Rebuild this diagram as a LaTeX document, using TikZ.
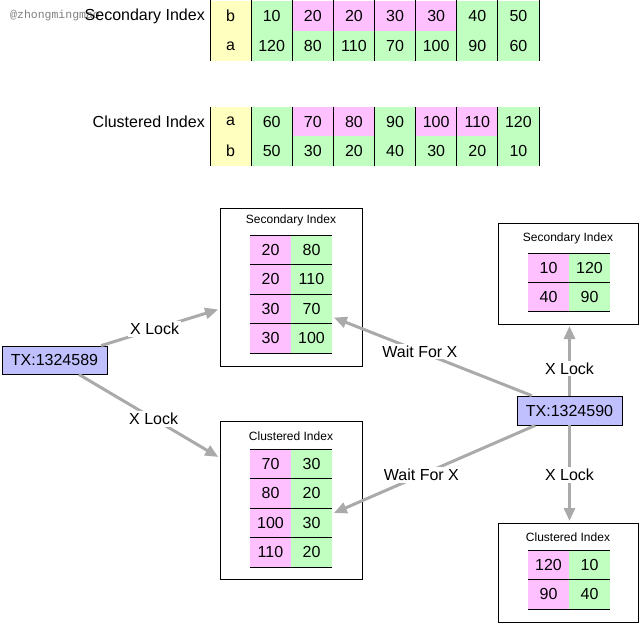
\documentclass[tikz,border=0pt]{standalone}
\usepackage{fontspec}
\setmainfont{Liberation Sans}
\newfontfamily\wmfont{Liberation Mono}
\usetikzlibrary{arrows.meta}
\definecolor{pnk}{HTML}{FFC0FF}
\definecolor{grn}{HTML}{C0FFC0}
\definecolor{ylw}{HTML}{FFFFC0}
\definecolor{txb}{HTML}{C0C0FF}
\definecolor{arr}{HTML}{AAAAAA}
\definecolor{wmgray}{HTML}{808080}
\begin{document}
\begin{tikzpicture}[x=1pt,y=-1pt,
  big/.style={font=\fontsize{16}{19}\selectfont},
  cellT/.style={big, minimum width=41.125pt, minimum height=30pt, inner sep=0pt, outer sep=0pt},
  cellB/.style={big, minimum width=41pt, minimum height=29.5pt, inner sep=0pt, outer sep=0pt},
  boxframe/.style={draw=black, line width=0.8pt, inner sep=0pt, outer sep=0pt},
  boxtitle/.style={font=\fontsize{12}{14}\selectfont, inner sep=0pt},
  txnode/.style={big, draw=black, line width=0.8pt, fill=txb, minimum width=105pt, minimum height=28pt, inner sep=0pt},
  conn/.style={draw=arr, line width=3pt, -{Triangle[length=13pt,width=11pt]}, shorten >=2pt},
  lbl/.style={big, fill=white, inner sep=2pt},
  rowlabel/.style={big, anchor=east, inner sep=0pt},
  rule/.style={draw=black, line width=0.8pt}
]
\path[use as bounding box] (0,0) rectangle (640,623);

% watermark
\node[anchor=west, text=wmgray, font=\wmfont\fontsize{11.5}{13}\selectfont, inner sep=0pt] (wm) at (10,16) {@zhongmingmao};

% ---------- top table: secondary index ----------
\node[rowlabel] (l1) at (205,16) {Secondary Index};
\foreach \v/\c [count=\i from 0] in {b/ylw,10/grn,20/pnk,20/pnk,30/pnk,30/pnk,40/grn,50/grn}
  \node[cellT, fill=\c] (sa\i) at (230.56+41.125*\i,16) {\v};
\foreach \v/\c [count=\i from 0] in {a/ylw,120/grn,80/grn,110/grn,70/grn,100/grn,90/grn,60/grn}
  \node[cellT, fill=\c] (sb\i) at (230.56+41.125*\i,46) {\v};
\foreach \i in {0,...,8}
  \draw[rule] (210+41.125*\i,0) -- (210+41.125*\i,61);

% ---------- clustered index table ----------
\node[rowlabel] (l2) at (205,122) {Clustered Index};
\foreach \v/\c [count=\i from 0] in {a/ylw,60/grn,70/pnk,80/pnk,90/grn,100/pnk,110/pnk,120/grn}
  \node[cellT, fill=\c, minimum height=29.5pt] (ca\i) at (230.56+41.125*\i,121.75) {\v};
\foreach \v/\c [count=\i from 0] in {b/ylw,50/grn,30/grn,20/grn,40/grn,30/grn,20/grn,10/grn}
  \node[cellT, fill=\c, minimum height=29.5pt] (cb\i) at (230.56+41.125*\i,151.25) {\v};
\foreach \i in {0,...,8}
  \draw[rule] (210+41.125*\i,107) -- (210+41.125*\i,166);

% ---------- box 1: secondary index (TX1) ----------
\node[boxframe, minimum width=142pt, minimum height=158pt] (b1) at (291,287) {};
\node[boxtitle] (b1t) at (291,220) {Secondary Index};
\foreach \l/\r [count=\k from 0] in {20/80,20/110,30/70,30/100} {
  \node[cellB, fill=pnk] (b1l\k) at (270.5,249.75+29.5*\k) {\l};
  \node[cellB, fill=grn] (b1r\k) at (311.5,249.75+29.5*\k) {\r};
}
\foreach \k in {0,...,4}
  \draw[rule] (250,235+29.5*\k) -- (332,235+29.5*\k);

% ---------- box 2: secondary index (TX2) ----------
\node[boxframe, minimum width=140pt, minimum height=101pt] (b2) at (568,273.5) {};
\node[boxtitle] (b2t) at (568,238) {Secondary Index};
\foreach \l/\r [count=\k from 0] in {10/120,40/90} {
  \node[cellB, fill=pnk] (b2l\k) at (548.5,267.5+29*\k) {\l};
  \node[cellB, fill=grn, minimum height=29pt] (b2r\k) at (589.5,267.5+29*\k) {\r};
}
\foreach \k in {0,...,2}
  \draw[rule] (528,253+29*\k) -- (610,253+29*\k);

% ---------- box 3: clustered index (TX1) ----------
\node[boxframe, minimum width=142pt, minimum height=158pt] (b3) at (291,500) {};
\node[boxtitle] (b3t) at (291,436) {Clustered Index};
\foreach \l/\r [count=\k from 0] in {70/30,80/20,100/30,110/20} {
  \node[cellB, fill=pnk] (b3l\k) at (270.5,463.75+29.5*\k) {\l};
  \node[cellB, fill=grn] (b3r\k) at (311.5,463.75+29.5*\k) {\r};
}
\foreach \k in {0,...,4}
  \draw[rule] (250,449+29.5*\k) -- (332,449+29.5*\k);

% ---------- box 4: clustered index (TX2) ----------
\node[boxframe, minimum width=140pt, minimum height=99pt] (b4) at (568,572.5) {};
\node[boxtitle] (b4t) at (568,537) {Clustered Index};
\foreach \l/\r [count=\k from 0] in {120/10,90/40} {
  \node[cellB, fill=pnk] (b4l\k) at (548.5,564.75+29.5*\k) {\l};
  \node[cellB, fill=grn] (b4r\k) at (589.5,564.75+29.5*\k) {\r};
}
\foreach \k in {0,...,2}
  \draw[rule] (528,550+29.5*\k) -- (610,550+29.5*\k);

% ---------- transactions ----------
\node[txnode] (tx1) at (54.5,360) {TX:1324589};
\node[txnode, minimum height=29pt] (tx2) at (569.5,410.5) {TX:1324590};

% ---------- connectors ----------
\draw[conn] (tx1) -- node[lbl,pos=0.45]{X Lock} (b1);
\draw[conn] (tx1) -- node[lbl,pos=0.53]{X Lock} (b3);
\draw[conn] (tx2) -- node[lbl,pos=0.56]{Wait For X} (b1r2);
\draw[conn] (tx2) -- node[lbl,pos=0.56]{Wait For X} (b3r2);
\draw[conn] (tx2.north) -- node[lbl,pos=0.38]{X Lock} (tx2.north |- b2.south);
\draw[conn] (tx2.south) -- node[lbl,pos=0.51]{X Lock} (tx2.south |- b4.north);
\end{tikzpicture}
\end{document}
